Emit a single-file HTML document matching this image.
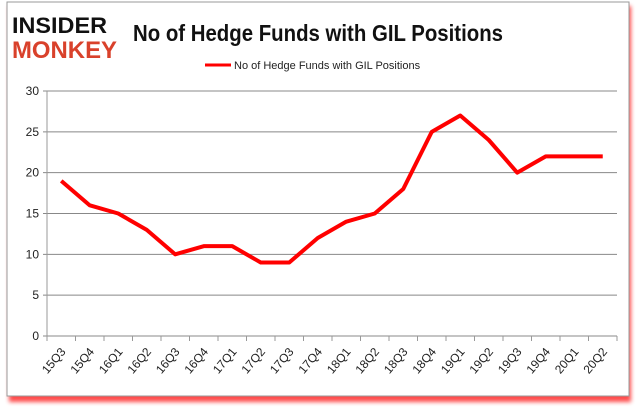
<!DOCTYPE html>
<html><head><meta charset="utf-8"><style>
body{margin:0;width:637px;height:408px;background:#fff;overflow:hidden;font-family:"Liberation Sans",sans-serif}
</style></head><body>
<svg width="637" height="408" xmlns="http://www.w3.org/2000/svg">
<defs><filter id="sh" x="-5%" y="-5%" width="110%" height="115%"><feGaussianBlur stdDeviation="2"/></filter></defs>
<rect x="9" y="6" width="622" height="396" fill="#f00" opacity="0.7" filter="url(#sh)"/>
<rect x="7" y="2" width="622" height="394" fill="#fff" stroke="#999"/>
<g>
<text x="12" y="33" font-size="22" font-weight="bold" fill="#111" textLength="95" lengthAdjust="spacingAndGlyphs">INSIDER</text>
<text x="12" y="58" font-size="24" font-weight="bold" fill="#d9412b" textLength="105" lengthAdjust="spacingAndGlyphs">MONKEY</text>
</g>
<text x="133" y="41" font-size="23" font-weight="bold" fill="#111" textLength="370" lengthAdjust="spacingAndGlyphs">No of Hedge Funds with GIL Positions</text>
<line x1="205" y1="65" x2="231" y2="65" stroke="#f00" stroke-width="3"/>
<text x="234" y="69" font-size="11" fill="#222">No of Hedge Funds with GIL Positions</text>
<g id="axes"></g>
<g id="marks"></g>
</svg>
<script>
const categories=["15Q3","15Q4","16Q1","16Q2","16Q3","16Q4","17Q1","17Q2","17Q3","17Q4","18Q1","18Q2","18Q3","18Q4","19Q1","19Q2","19Q3","19Q4","20Q1","20Q2"];
const values=[19,16,15,13,10,11,11,9,9,12,14,15,18,25,27,24,20,22,22,22];
const yTicks=[0,5,10,15,20,25,30];
const NS="http://www.w3.org/2000/svg";
const L=47,R=617,T=91,B=336,YMAX=30;
const bw=(R-L)/categories.length;
function xs(i){return L+bw*(i+0.5);}
function ys(v){return B-(B-T)*v/YMAX;}
function mk(tag,attrs,parent){const e=document.createElementNS(NS,tag);for(const k in attrs)e.setAttribute(k,attrs[k]);parent.appendChild(e);return e;}
const ax=document.getElementById('axes'),mg=document.getElementById('marks');
yTicks.forEach(t=>{
 const g=mk('line',{x1:L-4,x2:R,y1:ys(t),y2:ys(t),stroke:'#888','stroke-width':1},ax);
 
 
 const tx=mk('text',{x:L-8,y:ys(t)+4,'text-anchor':'end','font-size':12,fill:'#222'},ax);
 tx.textContent=t;
 
 
});
const ya=mk('line',{x1:L,x2:L,y1:T,y2:B,stroke:'#999'},ax);


categories.forEach((c,i)=>{
 const tk=mk('line',{x1:L+bw*i,x2:L+bw*i,y1:B,y2:B+5,stroke:'#999'},ax);
 
 
 const x=xs(i)+5,y=B+16;
 const tx=mk('text',{x:x,y:y,'text-anchor':'end','font-size':12,fill:'#222',transform:`rotate(-50 ${x} ${y})`},ax);
 tx.textContent=c;
 
 
});
const tkE=mk('line',{x1:R,x2:R,y1:B,y2:B+5,stroke:'#999'},ax);


const pts=values.map((v,i)=>xs(i)+','+ys(v)).join(' ');
const pl=mk('polyline',{points:pts,fill:'none',stroke:'#f00','stroke-width':4,'stroke-linejoin':'round'},mg);


</script>
</body></html>
